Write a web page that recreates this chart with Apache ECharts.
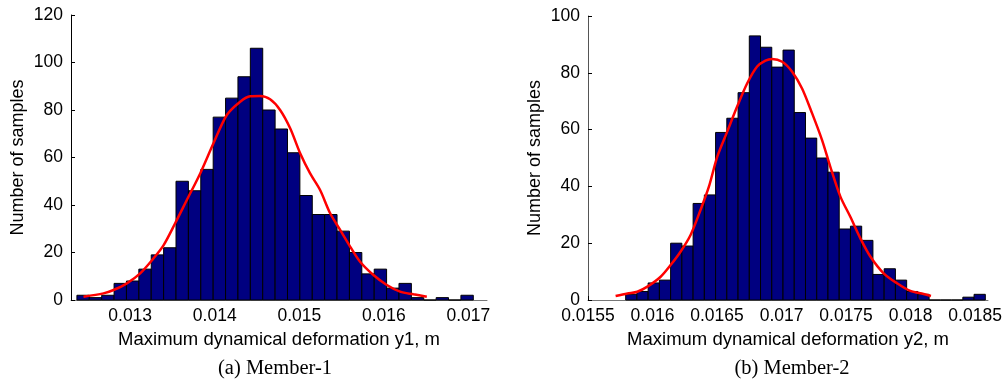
<!DOCTYPE html>
<html>
<head>
<meta charset="utf-8">
<script src="https://cdn.jsdelivr.net/npm/echarts@6/dist/echarts.min.js"></script>
<style>
  html, body { margin: 0; padding: 0; background: #fff; }
  #main { width: 1005px; height: 383px; }
</style>
</head>
<body>
<div id="main"></div>
<script>
// --- Member-1 histogram (y1) ---
const binStart1 = 0.01237;
const binWidth1 = 0.0001465;
const counts1 = [2, 1, 2, 7, 8, 13, 19, 22, 50, 46, 55, 77, 85, 94, 106, 80,
                 72, 62, 44, 36, 36, 29, 20, 11, 13, 5, 7, 1, 0, 1, 0, 2];
const xTicks1 = [0.013, 0.014, 0.015, 0.016, 0.017];
// fitted curve
const curveX1 = [0.012448, 0.012684, 0.012803, 0.012961, 0.013118, 0.013275, 0.013394,
                 0.013532, 0.013670, 0.013828, 0.013985, 0.014143, 0.014301, 0.014419,
                 0.014537, 0.014655, 0.014773, 0.014892, 0.015010, 0.015128, 0.015246,
                 0.015365, 0.015483, 0.015601, 0.015719, 0.015877, 0.016035, 0.016192,
                 0.016350, 0.016508];
const curveY1 = [1.4, 2.8, 4.2, 7.0, 11.2, 17.5, 23, 32.3, 42.1, 53.3, 66, 77.9, 83.5, 85.8,
                 85.9, 84.5, 80, 72.3, 61.8, 53.3, 46.3, 36.5, 29.5, 22.5, 16.1, 10.5, 6.3,
                 3.5, 2.4, 1.4];

// --- Member-2 histogram (y2) ---
const binStart2 = 0.015792;
const binWidth2 = 0.0000871;
const counts2 = [2, 3, 6, 7, 20, 19, 34, 37, 59, 64, 73, 93, 89, 82, 88, 66,
                 57, 50, 45, 25, 26, 21, 9, 11, 7, 3, 2, 0, 0, 0, 1, 2];
const xTicks2 = [0.0155, 0.016, 0.0165, 0.017, 0.0175, 0.018, 0.0185];
const curveX2 = [0.015714, 0.015805, 0.015882, 0.015960, 0.016063, 0.016140, 0.016217,
                 0.016295, 0.016372, 0.016437, 0.016502, 0.016579, 0.016656, 0.016734,
                 0.016811, 0.016875, 0.016927, 0.017005, 0.017082, 0.017159, 0.017237,
                 0.017314, 0.017378, 0.017456, 0.017533, 0.017611, 0.017688, 0.017791,
                 0.017895, 0.017998, 0.018101, 0.018158];
const curveY2 = [1.4, 2.3, 2.9, 4.7, 8.2, 12.3, 17, 22.9, 31.7, 39.9, 50.5, 59.3, 68.1,
                 76.3, 82.2, 84.3, 84.9, 83.9, 80.4, 74.5, 65.7, 56.3, 46.9, 36.4, 29.3,
                 21.7, 15.3, 9.4, 5.9, 3.2, 2.1, 1.4];

const SANS = 'Liberation Sans, Arial, Helvetica, sans-serif';
const SERIF = 'Liberation Serif, Times New Roman, serif';

// bins -> [lo, hi, count]
const toBins = (start, width, counts) =>
    counts.map((c, i) => [start + i * width, start + (i + 1) * width, c]);
const toPairs = (xs, ys) => xs.map((x, i) => [x, ys[i]]);

function renderHist(params, api) {
    const p0 = api.coord([api.value(0), api.value(2)]);
    const p1 = api.coord([api.value(1), 0]);
    return {
        type: 'rect',
        shape: { x: p0[0], y: p0[1], width: p1[0] - p0[0], height: p1[1] - p0[1] },
        style: { fill: '#000080', stroke: '#000', lineWidth: 1 }
    };
}

const xAxisOf = (gridIndex, min, max, ticks, name) => ({
    type: 'value',
    gridIndex: gridIndex,
    min: min,
    max: max,
    name: name,
    nameLocation: 'middle',
    nameGap: 30,
    nameTextStyle: { color: '#000', fontSize: 18.5, fontFamily: SANS },
    splitLine: { show: false },
    axisLine: { onZero: false, lineStyle: { color: '#777', width: 1 } },
    axisTick: { inside: true, length: 4, customValues: ticks, lineStyle: { color: '#000' } },
    axisLabel: {
        customValues: ticks, color: '#000', fontSize: 17.5, fontFamily: SANS, margin: 7,
        formatter: v => String(+v.toFixed(5))
    }
});

const yAxisOf = (gridIndex, max, lineColor) => ({
    type: 'value',
    gridIndex: gridIndex,
    min: 0,
    max: max,
    interval: 20,
    name: 'Number of samples',
    nameLocation: 'middle',
    nameGap: 44,
    nameTextStyle: { color: '#000', fontSize: 18, fontFamily: SANS },
    splitLine: { show: false },
    axisLine: { show: true, lineStyle: { color: lineColor, width: 1 } },
    axisTick: { show: true, inside: true, length: 4, lineStyle: { color: '#000' } },
    axisLabel: { color: '#000', fontSize: 17.5, fontFamily: SANS, margin: 8 }
});

const chart = echarts.init(document.getElementById('main'), null, { renderer: 'canvas' });

chart.setOption({
    backgroundColor: '#fff',
    animation: false,
    title: [
        { text: '(a) Member-1', left: 270, top: 353, textAlign: 'center',
          textStyle: { fontFamily: SERIF, fontSize: 20.5, fontWeight: 'normal', color: '#000' } },
        { text: '(b) Member-2', left: 787, top: 353, textAlign: 'center',
          textStyle: { fontFamily: SERIF, fontSize: 20.5, fontWeight: 'normal', color: '#000' } }
    ],
    grid: [
        { left: 71, top: 15, width: 416, height: 285 },
        { left: 588, top: 16, width: 400, height: 284 }
    ],
    xAxis: [
        xAxisOf(0, 0.0123, 0.01722, xTicks1, 'Maximum dynamical deformation y1, m'),
        xAxisOf(1, 0.0155, 0.0186, xTicks2, 'Maximum dynamical deformation y2, m')
    ],
    yAxis: [
        yAxisOf(0, 120, '#000'),
        yAxisOf(1, 100, '#555')
    ],
    series: [
        {
            type: 'custom', xAxisIndex: 0, yAxisIndex: 0,
            renderItem: renderHist,
            encode: { x: [0, 1], y: 2 },
            data: toBins(binStart1, binWidth1, counts1)
        },
        {
            type: 'line', xAxisIndex: 0, yAxisIndex: 0,
            data: toPairs(curveX1, curveY1),
            symbol: 'none', smooth: 0.3,
            lineStyle: { color: '#ff0000', width: 2.5 }
        },
        {
            type: 'custom', xAxisIndex: 1, yAxisIndex: 1,
            renderItem: renderHist,
            encode: { x: [0, 1], y: 2 },
            data: toBins(binStart2, binWidth2, counts2)
        },
        {
            type: 'line', xAxisIndex: 1, yAxisIndex: 1,
            data: toPairs(curveX2, curveY2),
            symbol: 'none', smooth: 0.3,
            lineStyle: { color: '#ff0000', width: 2.5 }
        }
    ]
});
</script>
</body>
</html>
